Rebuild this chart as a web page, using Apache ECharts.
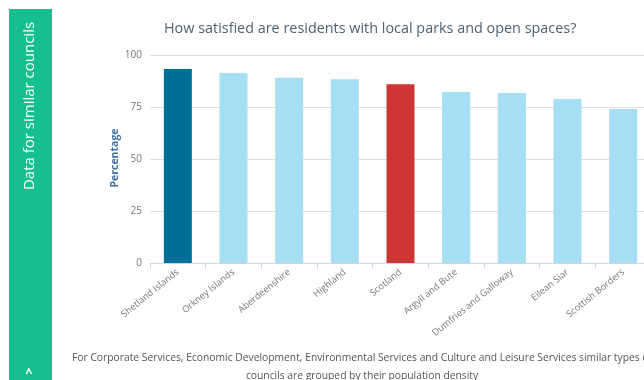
<!DOCTYPE html>
<html><head><meta charset="utf-8">
<script src="https://cdn.jsdelivr.net/npm/echarts@6/dist/echarts.min.js"></script>
<style>html,body{margin:0;padding:0;overflow:hidden;background:#fff;width:644px;height:380px}#c{width:660px;height:380px}</style>
</head><body><div id="c"></div>
<script>
const categories = ['Shetland Islands','Orkney Islands','Aberdeenshire','Highland','Scotland','Argyll and Bute','Dumfries and Galloway','Eilean Siar','Scottish Borders'];
const values = [93.3, 91.3, 89.1, 88.3, 85.9, 82.2, 81.7, 78.8, 74.0];
const barColors = ['#006f98','#a6def3','#a6def3','#a6def3','#cc3533','#a6def3','#a6def3','#a6def3','#a6def3'];
const yTicks = [0, 25, 50, 75, 100];
const titleText = 'How satisfied are residents with local parks and open spaces?';
const yName = 'Percentage';
const sideText = 'Data for similar councils';
const noteLines = ['For Corporate Services, Economic Development, Environmental Services and Culture and Leisure Services similar types of','councils are grouped by their population density'];

const FONT = '"Open Sans", sans-serif';
const chart = echarts.init(document.getElementById('c'), null, {renderer:'canvas'});
chart.setOption({
  animation:false,
  textStyle:{fontFamily:FONT},
  title:{text:titleText, left:159, top:17, textStyle:{fontFamily:FONT, fontSize:14.4, fontWeight:'normal', color:'#4d6271'}},
  grid:{left:150, top:55, bottom:117, right:9, containLabel:false},
  xAxis:{type:'category', data:categories, boundaryGap:true,
    axisLine:{lineStyle:{color:'#ccd6eb'}},
    axisTick:{show:true, length:5, lineStyle:{color:'#ccd6eb'}},
    axisLabel:{rotate:39, color:'#777', fontSize:9.3, fontFamily:FONT, margin:8, interval:0}},
  yAxis:{type:'value', min:yTicks[0], max:yTicks[yTicks.length-1], interval:25,
    axisLine:{show:false}, axisTick:{show:false},
    axisLabel:{color:'#777', fontSize:10, fontFamily:FONT, margin:8},
    splitLine:{lineStyle:{color:'#dedede'}}},
  series:[{type:'bar', data:values.map((v,i)=>({value:v, itemStyle:{color:barColors[i]}})), barWidth:28}],
  graphic:[
    {type:'text', x:115, y:158, rotation:Math.PI/2, style:{text:yName, fill:'#4470a0', font:'bold 10.5px '+FONT, textAlign:'center', textVerticalAlign:'middle'}},
    {type:'rect', shape:{x:9, y:9, width:43, height:380}, style:{fill:'#16bf8e'}},
    {type:'text', x:30, y:106, rotation:Math.PI/2, style:{text:sideText, fill:'#fff', font:'15px '+FONT, textAlign:'center', textVerticalAlign:'middle'}},
    {type:'text', x:29, y:374, style:{text:'^', fill:'#fff', font:'bold 12px '+FONT, textAlign:'center', textVerticalAlign:'middle'}},
    {type:'text', x:362, y:358, style:{text:noteLines[0], fill:'#555', font:'10.3px '+FONT, textAlign:'center', textVerticalAlign:'middle'}},
    {type:'text', x:362, y:376, style:{text:noteLines[1], fill:'#555', font:'10.3px '+FONT, textAlign:'center', textVerticalAlign:'middle'}}
  ]
});
</script></body></html>
